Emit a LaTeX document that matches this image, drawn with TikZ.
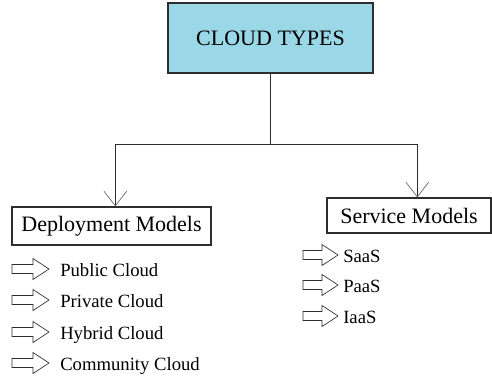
\documentclass[tikz,border=0pt]{standalone}
\usepackage{fontspec}
\setmainfont{Liberation Serif}
\usetikzlibrary{arrows.meta}
\definecolor{boxblue}{RGB}{154,216,232}
\definecolor{ln}{RGB}{45,45,45}
\tikzset{
  titlebox/.style={draw=ln, line width=1.2pt, fill=boxblue, minimum width=205*0.75pt, minimum height=70*0.75pt, inner sep=0pt, font=\fontsize{16.5}{18}\selectfont},
  headbox/.style={draw=ln, line width=0.9pt, inner sep=0pt, font=\fontsize{16.5}{18}\selectfont},
  conn/.style={draw=ln, line width=1.1pt},
  arr/.style={conn, -{Straight Barb[length=11pt, width=17pt, line width=0.5pt, color=gray!80!black]}},
  item/.style={anchor=base west, inner sep=0pt, font=\fontsize{14}{16}\selectfont},
  pics/blockarrow/.style={code={
    \draw[ln, line width=0.5pt] (0,-4.5) -- (#1-16,-4.5) -- (#1-16,-10.5) -- (#1,0) -- (#1-16,10.5) -- (#1-16,4.5) -- (0,4.5) -- cycle;
  }}
}
\begin{document}
\begin{tikzpicture}[x=0.75pt,y=-0.75pt]
\useasboundingbox (0,0) rectangle (492,376);
\node[titlebox] (top) at (270.5,38) {CLOUD TYPES};
\node[headbox, minimum width=199*0.75pt, minimum height=38*0.75pt] (dep) at (111.5,226) {Deployment Models};
\node[headbox, minimum width=164*0.75pt, minimum height=35*0.75pt] (svc) at (409,215.5) {Service Models};
\coordinate (jl) at (115.3,144.3);
\coordinate (jr) at (417.3,144.3);
\coordinate (jc) at (top.south |- jl);
\draw[conn] (top.south) -- (jc);
\draw[conn] (jl) -- (jr);
\draw[arr] (jl) -- (jl |- dep.north);
\draw[arr] (jr) -- (jr |- svc.north);
% deployment items
\pic at (12,269) {blockarrow=37};
\pic at (12,300) {blockarrow=37};
\pic at (12,332) {blockarrow=37};
\pic at (12,363) {blockarrow=37};
\node[item] (d1) at (60,276) {Public Cloud};
\node[item] (d2) at (60,307) {Private Cloud};
\node[item] (d3) at (60,339) {Hybrid Cloud};
\node[item] (d4) at (60,370) {Community Cloud};
% service items
\pic at (303,255) {blockarrow=35};
\pic at (303,285) {blockarrow=35};
\pic at (303,316) {blockarrow=35};
\node[item] (s1) at (343,262) {SaaS};
\node[item] (s2) at (343,292) {PaaS};
\node[item] (s3) at (343,323) {IaaS};
\end{tikzpicture}
\end{document}
